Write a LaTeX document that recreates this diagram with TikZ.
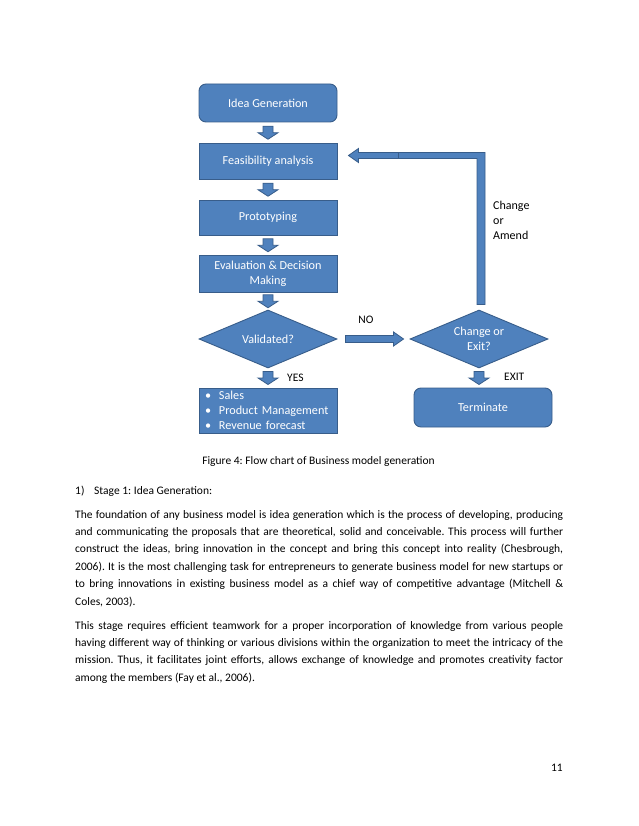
\documentclass[tikz,border=0pt]{standalone}
\usepackage{fontspec}
\setmainfont{Carlito}
\usetikzlibrary{shapes.geometric,calc}
\frenchspacing

\definecolor{boxblue}{RGB}{79,129,189}
\definecolor{boxline}{RGB}{56,93,138}

\tikzset{
    flowbox/.style={draw=boxline, fill=boxblue, line width=0.9pt, text=white,
        font=\fontsize{12.2}{15}\selectfont, align=center,
        minimum width=138pt, inner sep=2pt},
    roundbox/.style={flowbox, rounded corners=7pt},
    decision/.style={flowbox, diamond, aspect=2.4, minimum height=58pt, inner sep=0pt},
    blockarrow/.style={draw=boxline, fill=boxblue, line width=0.8pt},
    flowlabel/.style={font=\fontsize{11.5}{14.5}\selectfont, text=black, inner sep=0pt},
    bodytext/.style={font=\fontsize{11.5}{17.4}\selectfont, inner sep=0pt, anchor=base west},
    paratext/.style={bodytext, text width=488pt, align=justify},
    downarrow/.pic={
        \draw[blockarrow] (-5,-6.5) -- (5,-6.5) -- (5,0) -- (10,0) -- (0,6.5)
            -- (-10,0) -- (-5,0) -- cycle;
    }
}

\begin{document}
\begin{tikzpicture}[x=1pt, y=-1pt]
    \useasboundingbox (0,0) rectangle (638,826);

    % Cajas del diagrama
    \node[roundbox, minimum height=38pt] (idea) at (268,103) {Idea Generation};
    \node[flowbox, minimum height=36pt] (feas) at (268,161.5) {Feasibility analysis};
    \node[flowbox, minimum height=35pt] (proto) at (268,217.5) {Prototyping};
    \node[flowbox, minimum height=37pt] (eval) at (268,274) {Evaluation \& Decision\\Making};
    \node[decision] (valid) at (268,339) {Validated?};
    \node[flowbox, minimum height=45pt, text width=126pt, align=left,
          inner xsep=6pt, inner ysep=0pt] (sales) at (268,410.5)
        {\makebox[14pt][l]{\textbullet}Sales\\
         \makebox[14pt][l]{\textbullet}Product Management\\
         \makebox[14pt][l]{\textbullet}Revenue forecast};
    \node[decision] (chg) at (479,339) {Change or\\Exit?};
    \node[roundbox, minimum height=39pt] (term) at (483,407.5) {Terminate};

    % Flechas hacia abajo
    \pic at ($(idea.south)!0.5!(feas.north)$) {downarrow};
    \pic at ($(feas.south)!0.5!(proto.north)$) {downarrow};
    \pic at ($(proto.south)!0.5!(eval.north)$) {downarrow};
    \pic at ($(eval.south)!0.5!(valid.north)$) {downarrow};
    \pic at ($(valid.south)!0.5!(sales.north)$) {downarrow};
    \pic at ($(chg.south)!0.5!(chg.south |- term.north)$) {downarrow};

    % Flecha NO
    \draw[blockarrow]
        ($(valid.east)+(8,-3.5)$) -- ($(chg.west)+(-16,-3.5)$)
        -- ($(chg.west)+(-16,-7)$) -- ($(chg.west)+(-6,0)$)
        -- ($(chg.west)+(-16,7)$) -- ($(chg.west)+(-16,3.5)$)
        -- ($(valid.east)+(8,3.5)$) -- cycle;

    % Retorno a factibilidad
    \coordinate (fbstart) at ($(chg.north)+(2,-5)$);
    \coordinate (fbtip) at ($(feas.east)+(11,-6)$);
    \draw[blockarrow]
        ($(fbstart)+(4,0)$) -- ($(fbstart |- fbtip)+(4,-3)$)
        -- ($(fbtip)+(10,-3)$) -- ($(fbtip)+(10,-7)$) -- (fbtip)
        -- ($(fbtip)+(10,7)$) -- ($(fbtip)+(10,3)$)
        -- ($(fbstart |- fbtip)+(-4,3)$) -- ($(fbstart)+(-4,0)$) -- cycle;
    \draw[boxline, line width=0.8pt] ($(fbtip)+(50,-3)$) -- ($(fbtip)+(50,3)$);

    % Etiquetas
    \node[flowlabel] (no) at (366,320) {NO};
    \node[flowlabel, anchor=west] (yes) at (287,378) {YES};
    \node[flowlabel, anchor=west] (exit) at (504,377) {EXIT};
    \node[flowlabel, font=\fontsize{12}{14.5}\selectfont, anchor=base west, align=left]
        (amend) at (493,239) {Change\\or\\Amend};

    % Texto de la pagina
    \node[bodytext, anchor=base] (caption) at (318.5,464)
        {Figure 4: Flow chart of Business model generation};
    \node[bodytext] (num) at (75,494) {1)};
    \node[bodytext] (stage) at (94,494) {Stage 1: Idea Generation:};
    \node[paratext] (para1) at (75,518) {%
        The foundation of any business model is idea generation which is the process of developing, producing\linebreak
        and communicating the proposals that are theoretical, solid and conceivable. This process will further\linebreak
        construct the ideas, bring innovation in the concept and bring this concept into reality (Chesbrough,\linebreak
        2006). It is the most challenging task for entrepreneurs to generate business model for new startups or\linebreak
        to bring innovations in existing business model as a chief way of competitive advantage (Mitchell \&\linebreak
        Coles, 2003).};
    \node[paratext] (para2) at (75,629) {%
        This stage requires efficient teamwork for a proper incorporation of knowledge from various people\linebreak
        having different way of thinking or various divisions within the organization to meet the intricacy of the\linebreak
        mission. Thus, it facilitates joint efforts, allows exchange of knowledge and promotes creativity factor\linebreak
        among the members (Fay et al., 2006).};
    \node[bodytext, anchor=base east] (page) at (563,771) {11};

\end{tikzpicture}
\end{document}
